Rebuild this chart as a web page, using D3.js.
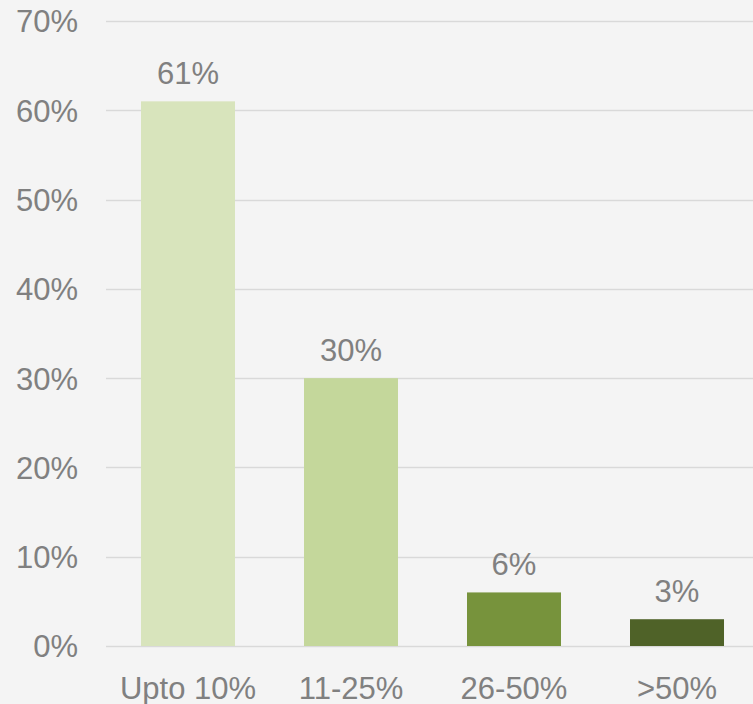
<!DOCTYPE html>
<html>
<head>
<meta charset="utf-8">
<script src="https://cdn.jsdelivr.net/npm/d3@7"></script>
<style>
  html, body { margin: 0; padding: 0; background: #f4f4f4; }
  svg { display: block; }
</style>
</head>
<body>
<svg id="chart" width="753" height="704"></svg>
<script>
// Share of respondents by range
const categories = ["Upto 10%", "11-25%", "26-50%", ">50%"];
const values = [0.61, 0.30, 0.06, 0.03];
const barColors = ["#d8e4bc", "#c4d79b", "#77933c", "#4f6228"];
const tickValues = [0, 0.1, 0.2, 0.3, 0.4, 0.5, 0.6, 0.7];

const svg = d3.select("#chart");
const W = 753, H = 704;
const font = "'Liberation Sans', Arial, sans-serif";
const textColor = "#808080";
const fontSize = 31;

svg.append("rect").attr("width", W).attr("height", H).attr("fill", "#f4f4f4");

const y = d3.scaleLinear().domain([0, 0.7]).range([646, 21]);
const x = d3.scaleBand().domain(categories).range([106, 759])
  .paddingInner(0.4233).paddingOuter(0.2147);

const fmt = d3.format(".0%");

// Horizontal gridlines
svg.append("g").selectAll("line").data(tickValues).join("line")
  .attr("x1", 106).attr("x2", W)
  .attr("y1", d => Math.round(y(d)) + 0.5).attr("y2", d => Math.round(y(d)) + 0.5)
  .attr("stroke", "#d9d9d9").attr("stroke-width", 1.5);

// Y axis labels
const yAxis = d3.axisLeft(y).tickValues(tickValues).tickFormat(fmt).tickSize(0).tickPadding(0);
const gy = svg.append("g").attr("transform", "translate(78,0)").call(yAxis);
gy.select(".domain").remove();
gy.selectAll("text")
  .attr("fill", textColor).attr("font-family", font).attr("font-size", fontSize).attr("dy", "0.35em");

// Bars
svg.append("g").selectAll("rect").data(values).join("rect")
  .attr("x", (d, i) => x(categories[i]))
  .attr("width", x.bandwidth())
  .attr("y", d => y(d))
  .attr("height", d => y(0) - y(d))
  .attr("fill", (d, i) => barColors[i]);

// Value labels
svg.append("g").selectAll("text").data(values).join("text")
  .attr("x", (d, i) => x(categories[i]) + x.bandwidth() / 2)
  .attr("y", d => y(d) - 17)
  .attr("text-anchor", "middle")
  .attr("fill", textColor).attr("font-family", font).attr("font-size", fontSize)
  .text(d => fmt(d));

// Category axis labels
const xAxis = d3.axisBottom(x).tickSize(0).tickPadding(0);
const gx = svg.append("g").attr("transform", "translate(0,646)").call(xAxis);
gx.select(".domain").remove();
gx.selectAll("text")
  .attr("fill", textColor).attr("font-family", font).attr("font-size", fontSize)
  .attr("dy", null).attr("y", 53);
</script>
</body>
</html>
